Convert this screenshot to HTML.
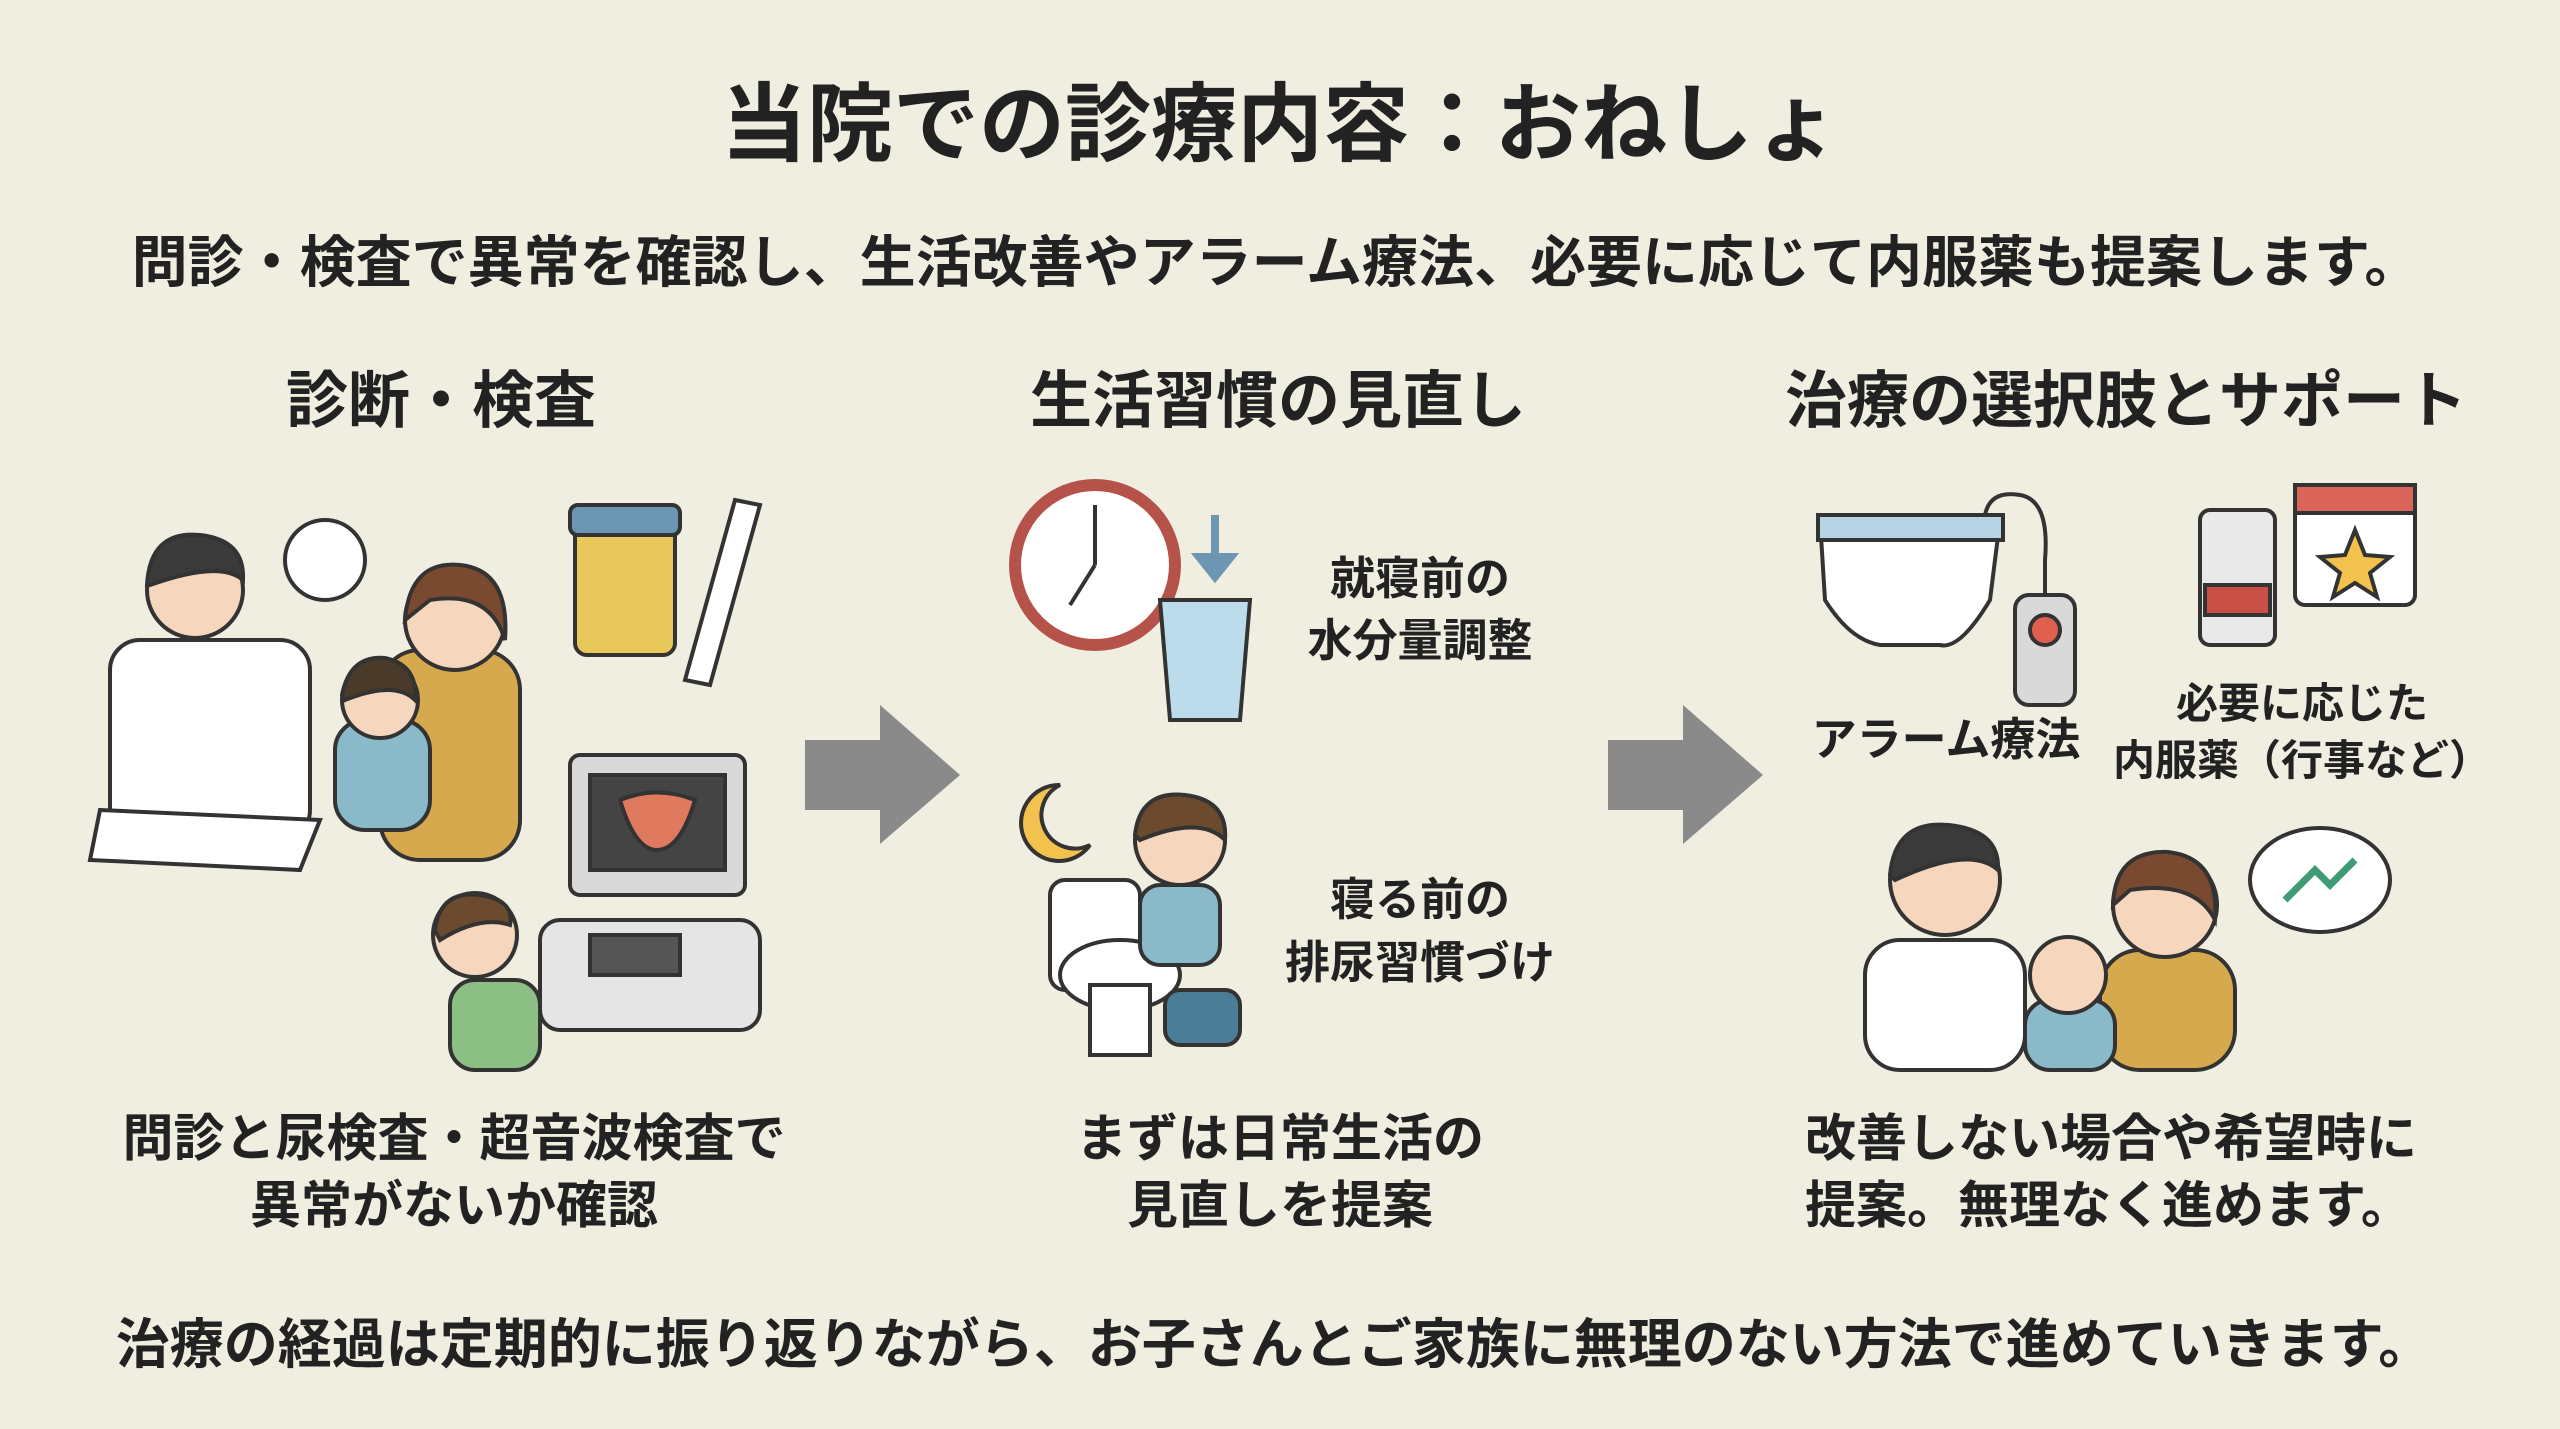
<!DOCTYPE html>
<html><head><meta charset="utf-8"><style>
body{margin:0;width:2560px;height:1429px;background:#f0eee1;overflow:hidden;position:relative;font-family:"Liberation Sans","Noto Sans CJK JP",sans-serif;color:#222;font-weight:bold}
.t{position:absolute;white-space:nowrap;transform:translateX(-50%);text-align:center}
svg{position:absolute;left:0;top:0}
</style></head><body>
<svg width="2560" height="1429" viewBox="0 0 2560 1429">
<g fill="#8a8a8a"><polygon points="805,740 880,740 880,705 960,775 880,844 880,810 805,810"/><polygon points="1608,740 1683,740 1683,705 1763,775 1683,844 1683,810 1608,810"/></g>
<g stroke="#333" stroke-width="4">
<rect x="110" y="640" width="200" height="200" rx="30" fill="#fff"/>
<circle cx="195" cy="590" r="48" fill="#f6d6bd"/><path d="M147 585 Q150 530 200 535 Q245 540 243 580 Q220 560 150 585Z" fill="#3a3a3a"/>
<circle cx="325" cy="560" r="40" fill="#fff"/>
<rect x="380" y="650" width="140" height="210" rx="40" fill="#d7a94e"/><circle cx="455" cy="620" r="50" fill="#f6d6bd"/><path d="M405 620 Q410 560 460 565 Q510 570 505 640 Q490 590 430 600Z" fill="#7a4a30"/>
<rect x="335" y="720" width="95" height="110" rx="30" fill="#8ab9c9"/><circle cx="380" cy="700" r="38" fill="#f6d6bd"/><path d="M342 695 Q350 655 385 658 Q418 665 415 700 Q395 680 345 700Z" fill="#4a3a2a"/>
<polygon points="100,810 320,820 300,870 90,860" fill="#fff"/>
<rect x="575" y="510" width="100" height="145" rx="12" fill="#e8c85a"/><rect x="570" y="505" width="110" height="30" rx="8" fill="#6d96b3"/>
<polygon points="735,500 760,505 710,685 685,680" fill="#fff"/>
<rect x="570" y="755" width="175" height="140" rx="10" fill="#d9d9d9"/><rect x="590" y="775" width="135" height="95" fill="#444"/>
<path d="M620 800 Q657 785 695 800 Q680 850 657 850 Q635 850 620 800Z" fill="#e07a5f"/>
<rect x="540" y="920" width="220" height="110" rx="20" fill="#e5e5e5"/><rect x="590" y="935" width="90" height="40" fill="#555"/>
<circle cx="475" cy="935" r="42" fill="#f6d6bd"/><path d="M435 930 Q440 890 480 895 Q515 900 510 925 Q480 915 440 940Z" fill="#6b4a2e"/>
<rect x="450" y="980" width="90" height="90" rx="25" fill="#8cbf84"/>
<circle cx="1095" cy="565" r="80" fill="#fff" stroke="#b5524a" stroke-width="12"/><line x1="1095" y1="565" x2="1095" y2="505"/><line x1="1095" y1="565" x2="1070" y2="605"/>
<line x1="1215" y1="515" x2="1215" y2="560" stroke="#6d96b3" stroke-width="8"/><polygon points="1195,555 1235,555 1215,580" fill="#6d96b3" stroke="#6d96b3"/>
<path d="M1160 600 L1250 600 L1240 720 L1170 720Z" fill="#bcdcec"/>
<path d="M1060 785 A38 38 0 1 0 1090 845 A30 30 0 0 1 1060 785Z" fill="#f2c14e"/>
<rect x="1050" y="880" width="90" height="110" rx="15" fill="#fff"/><ellipse cx="1120" cy="975" rx="60" ry="35" fill="#fff"/><rect x="1090" y="985" width="60" height="70" fill="#fff"/>
<circle cx="1180" cy="840" r="45" fill="#f6d6bd"/><path d="M1135 835 Q1140 790 1185 795 Q1228 800 1225 840 Q1200 815 1140 840Z" fill="#6b4a2e"/>
<rect x="1140" y="885" width="80" height="80" rx="20" fill="#8ab9c9"/><rect x="1165" y="990" width="75" height="55" rx="15" fill="#4c7d96"/>
<path d="M1820 520 L2000 520 L1990 600 Q1960 650 1940 645 L1880 645 Q1850 640 1825 600Z" fill="#fff"/><rect x="1818" y="515" width="185" height="25" fill="#b6d3e3"/>
<path d="M1985 515 Q1990 490 2020 495 Q2050 500 2045 560 L2045 600" fill="none"/>
<rect x="2015" y="595" width="60" height="110" rx="14" fill="#d9d9d9"/><circle cx="2045" cy="630" r="15" fill="#e06050"/>
<rect x="2200" y="510" width="75" height="135" rx="10" fill="#e9e9e9"/><rect x="2205" y="585" width="65" height="30" fill="#c94f47"/>
<rect x="2295" y="485" width="120" height="120" rx="10" fill="#fff"/><rect x="2295" y="485" width="120" height="28" fill="#d9645a"/>
<polygon points="2355,530 2365,555 2390,557 2370,573 2377,597 2355,583 2333,597 2340,573 2320,557 2345,555" fill="#f2c14e"/>
<rect x="1865" y="940" width="160" height="130" rx="35" fill="#fff"/><circle cx="1945" cy="880" r="55" fill="#f6d6bd"/><path d="M1890 875 Q1895 820 1948 825 Q2000 830 1998 870 Q1970 845 1895 880Z" fill="#3a3a3a"/>
<rect x="2100" y="950" width="135" height="120" rx="40" fill="#d7a94e"/><circle cx="2165" cy="905" r="52" fill="#f6d6bd"/><path d="M2113 905 Q2115 850 2168 852 Q2220 858 2215 920 Q2195 880 2130 890Z" fill="#7a4a30"/>
<rect x="2025" y="1000" width="90" height="70" rx="25" fill="#8ab9c9"/><circle cx="2068" cy="975" r="38" fill="#f6d6bd"/>
<ellipse cx="2320" cy="880" rx="70" ry="52" fill="#fff"/><polyline points="2285,900 2315,870 2330,885 2355,860" fill="none" stroke="#3f9a76" stroke-width="7"/>
</g>
</svg>
<div class="t" style="left:1280px;top:54px;font-size:86px">当院での診療内容：おねしょ</div>
<div class="t" style="left:1276px;top:218px;font-size:56px">問診・検査で異常を確認し、生活改善やアラーム療法、必要に応じて内服薬も提案します。</div>
<div class="t" style="left:441px;top:350px;font-size:62px">診断・検査</div>
<div class="t" style="left:1278px;top:350px;font-size:62px">生活習慣の見直し</div>
<div class="t" style="left:2126px;top:350px;font-size:62px">治療の選択肢とサポート</div>
<div class="t" style="left:1420px;top:548px;font-size:45px;line-height:62px">就寝前の<br>水分量調整</div>
<div class="t" style="left:1420px;top:868px;font-size:45px;line-height:63px">寝る前の<br>排尿習慣づけ</div>
<div class="t" style="left:1946px;top:703px;font-size:45px">アラーム療法</div>
<div class="t" style="left:2302px;top:675px;font-size:42px;line-height:57px">必要に応じた<br>内服薬（行事など）</div>
<div class="t" style="left:454px;top:1105px;font-size:51px;line-height:67px">問診と尿検査・超音波検査で<br>異常がないか確認</div>
<div class="t" style="left:1280px;top:1105px;font-size:51px;line-height:67px">まずは日常生活の<br>見直しを提案</div>
<div class="t" style="left:2111px;top:1105px;font-size:51px;line-height:67px;text-align:left">改善しない場合や希望時に<br>提案。無理なく進めます。</div>
<div class="t" style="left:1274px;top:1300px;font-size:54px">治療の経過は定期的に振り返りながら、お子さんとご家族に無理のない方法で進めていきます。</div>
</body></html>
